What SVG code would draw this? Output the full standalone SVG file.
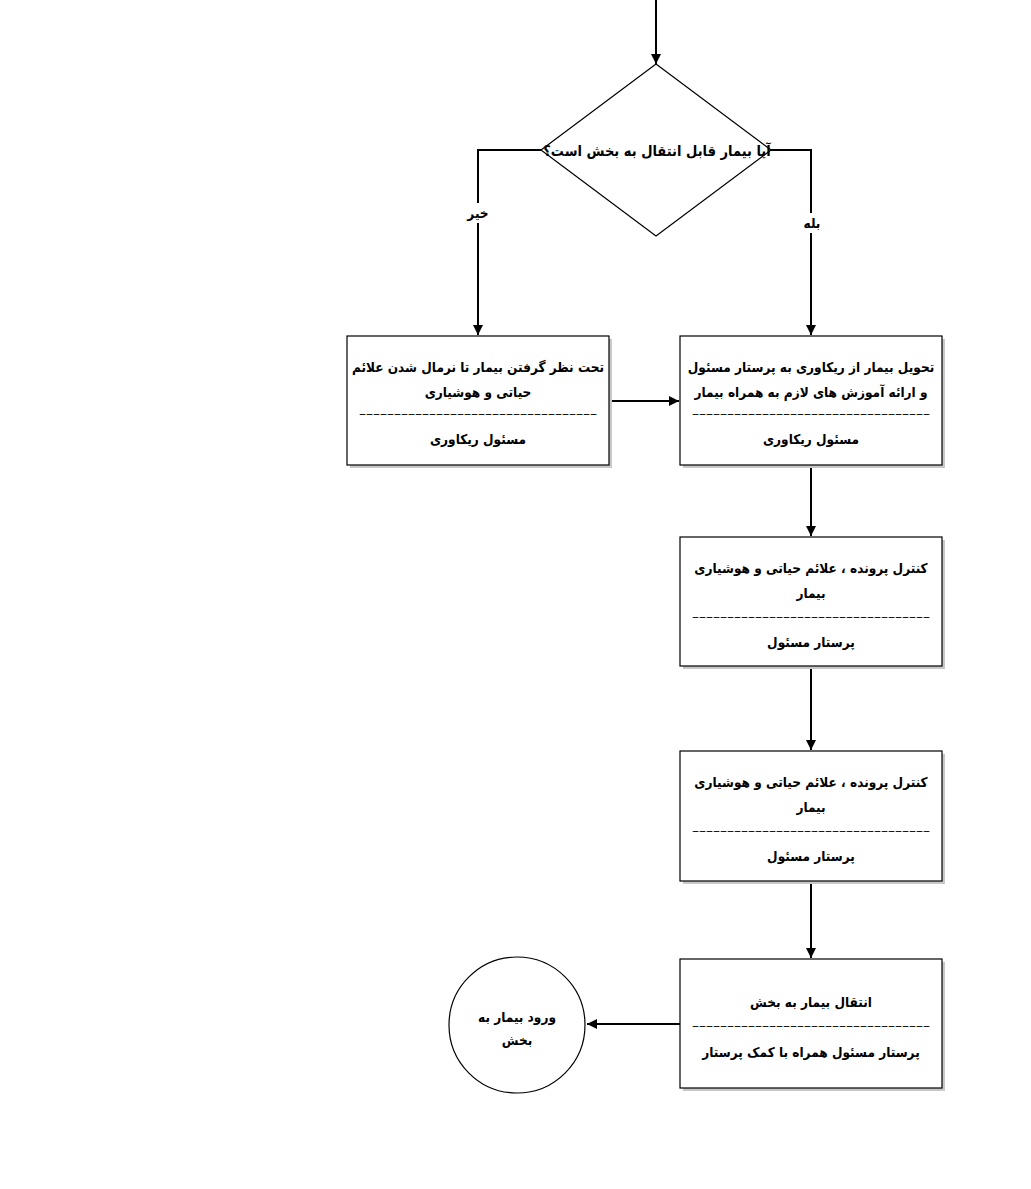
<svg xmlns="http://www.w3.org/2000/svg" width="1031" height="1189" viewBox="0 0 1031 1189">
<defs>
<marker id="ah" viewBox="0 0 10 10" refX="10" refY="5" markerWidth="10" markerHeight="10" markerUnits="userSpaceOnUse" orient="auto">
<path d="M0,0 L10,5 L0,10 z" fill="#000"/>
</marker>
</defs>
<style>
.box{fill:#fff;stroke:#000;stroke-width:1.2}
.sh{fill:#c8c8c8}
.t{font-family:"DejaVu Sans Condensed","DejaVu Sans",sans-serif;font-size:13.5px;font-weight:bold;text-anchor:middle;fill:#000}
.d{font-family:"DejaVu Sans",sans-serif;font-size:12px;text-anchor:middle;fill:#000}
.c{fill:none;stroke:#000;stroke-width:2;marker-end:url(#ah)}
.bg{fill:#fff}
</style>
<rect width="1031" height="1189" fill="#fff"/>
<g id="connectors">
<path class="c" d="M656,0 V64"/>
<path class="c" d="M541,150 H478 V335"/>
<path class="c" d="M771,150 H811 V335"/>
<path class="c" d="M609,401 H679"/>
<path class="c" d="M811,465 V536"/>
<path class="c" d="M811,666 V750"/>
<path class="c" d="M811,881 V958"/>
<path class="c" d="M680,1024 H587"/>
<rect class="bg" x="466" y="203" width="24" height="20"/>
<text class="t" x="478" y="218" direction="rtl">خیر</text>
<rect class="bg" x="801" y="213" width="22" height="20"/>
<text class="t" x="812" y="228" direction="rtl">بله</text>
</g>
<g id="decision">
<polygon points="656,64 771,150 656,236 541,150" fill="#fff" stroke="#000" stroke-width="1.2"/>
<text class="t" x="657" y="156" direction="rtl" style="font-size:14.5px">آیا بیمار قابل انتقال به بخش است؟</text>
</g>
<g id="boxA">
<rect class="sh" x="350" y="339" width="262" height="129"/>
<rect class="box" x="347" y="336" width="262" height="129"/>
<text class="t" x="478" y="372" direction="rtl">تحت نظر گرفتن بیمار تا نرمال شدن علائم</text>
<text class="t" x="478" y="397" direction="rtl">حیاتی و هوشیاری</text>
<text class="d" x="478" y="418" textLength="238" lengthAdjust="spacingAndGlyphs">––––––––––––––––––––––––––––––––––</text>
<text class="t" x="478" y="444" direction="rtl">مسئول ریکاوری</text>
</g>
<g id="boxB">
<rect class="sh" x="683" y="339" width="262" height="129"/>
<rect class="box" x="680" y="336" width="262" height="129"/>
<text class="t" x="811" y="372" direction="rtl">تحویل بیمار از ریکاوری به پرستار مسئول</text>
<text class="t" x="811" y="397" direction="rtl">و ارائه آموزش های لازم به همراه بیمار</text>
<text class="d" x="811" y="418" textLength="238" lengthAdjust="spacingAndGlyphs">––––––––––––––––––––––––––––––––––</text>
<text class="t" x="811" y="444" direction="rtl">مسئول ریکاوری</text>
</g>
<g id="boxC">
<rect class="sh" x="683" y="540" width="262" height="129"/>
<rect class="box" x="680" y="537" width="262" height="129"/>
<text class="t" x="811" y="573" direction="rtl">کنترل پرونده ، علائم حیاتی و هوشیاری</text>
<text class="t" x="811" y="598" direction="rtl">بیمار</text>
<text class="d" x="811" y="621" textLength="238" lengthAdjust="spacingAndGlyphs">––––––––––––––––––––––––––––––––––</text>
<text class="t" x="811" y="647" direction="rtl">پرستار مسئول</text>
</g>
<g id="boxD">
<rect class="sh" x="683" y="754" width="262" height="130"/>
<rect class="box" x="680" y="751" width="262" height="130"/>
<text class="t" x="811" y="787" direction="rtl">کنترل پرونده ، علائم حیاتی و هوشیاری</text>
<text class="t" x="811" y="812" direction="rtl">بیمار</text>
<text class="d" x="811" y="835" textLength="238" lengthAdjust="spacingAndGlyphs">––––––––––––––––––––––––––––––––––</text>
<text class="t" x="811" y="861" direction="rtl">پرستار مسئول</text>
</g>
<g id="boxE">
<rect class="sh" x="683" y="962" width="262" height="129"/>
<rect class="box" x="680" y="959" width="262" height="129"/>
<text class="t" x="811" y="1007" direction="rtl">انتقال بیمار به بخش</text>
<text class="d" x="811" y="1030" textLength="238" lengthAdjust="spacingAndGlyphs">––––––––––––––––––––––––––––––––––</text>
<text class="t" x="811" y="1057" direction="rtl">پرستار مسئول همراه با کمک پرستار</text>
</g>
<g id="end">
<circle cx="517" cy="1025" r="68" fill="#fff" stroke="#000" stroke-width="1.2"/>
<text class="t" x="517" y="1022" direction="rtl">ورود بیمار به</text>
<text class="t" x="517" y="1045" direction="rtl">بخش</text>
</g>
</svg>
